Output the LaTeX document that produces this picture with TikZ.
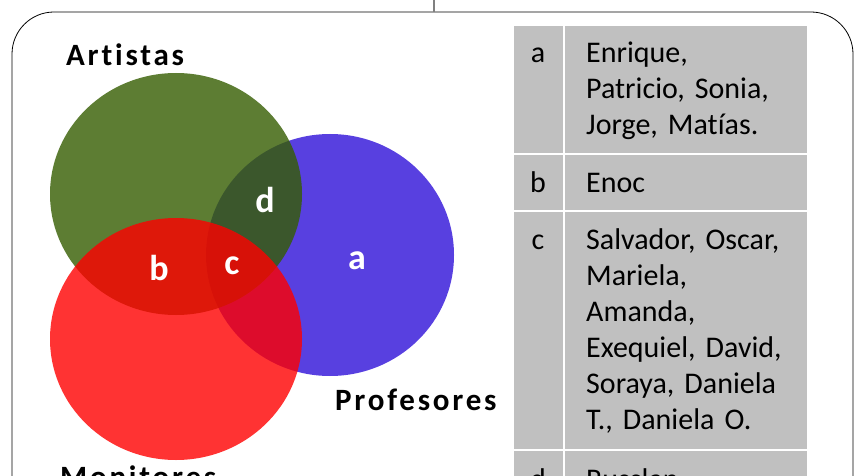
\documentclass[tikz,border=0pt]{standalone}
\usepackage{fontspec}
\setmainfont{Carlito}[Ligatures=NoCommon]
\newfontfamily\setnamefont[LetterSpace=9, Ligatures=NoCommon]{Carlito}
\usetikzlibrary{positioning}
\definecolor{artgreen}{RGB}{52,93,0}
\definecolor{profblue}{RGB}{88,64,224}
\definecolor{monred}{RGB}{255,0,0}
\definecolor{cellgray}{RGB}{192,192,192}

\begin{document}
\begin{tikzpicture}[
    x=1pt, y=-1pt,
    setname/.style={font=\setnamefont\bfseries\fontsize{31}{31}\selectfont, anchor=base west, inner sep=0pt},
    region/.style={font=\bfseries\fontsize{36}{36}\selectfont, text=white, inner sep=0pt},
    cell/.style={fill=cellgray, draw=white, line width=1.5pt},
    key/.style={font=\fontsize{30}{36}\selectfont, anchor=base, inner sep=0pt},
    names/.style={font=\fontsize{30}{36}\selectfont, anchor=base west, align=left, text width=230pt, inner sep=0pt}
]
    \useasboundingbox (0,0) rectangle (854,476);

    % frame
    \draw[line width=0.8pt, rounded corners=42pt] (12,540) rectangle (853,12);
    \coordinate (tab) at (434,0);
    \coordinate (tabfoot) at (434,12);
    \draw[gray, line width=1.5pt] (tab) -- (tabfoot);

    % sets
    \fill[profblue] (330,255) ellipse [x radius=124pt, y radius=121pt];
    \fill[artgreen, fill opacity=0.8] (176,194) ellipse [x radius=126pt, y radius=121pt];
    \fill[monred, fill opacity=0.8] (176,339) ellipse [x radius=126pt, y radius=121pt];

    \node[setname] (artistas) at (66,66) {Artistas};
    \node[setname] (profesores) at (335,410) {Profesores};
    \node[setname] (monitores) at (60,487) {Monitores};

    \node[region] (ra) at (357,261) {a};
    \node[region] (rb) at (159,268) {b};
    \node[region] (rc) at (232,266) {c};
    \node[region] (rd) at (265,200) {d};

    % table
    \foreach \top/\bot in {25/154, 154/211, 211/450, 450/540} {
        \path[cell] (513,\top) rectangle (564,\bot);
        \path[cell] (564,\top) rectangle (808,\bot);
    }

    \node[key] (ka) at (538,63) {a};
    \node[names] (na) at (586,63) {Enrique,\\Patricio, Sonia,\\Jorge, Matías.};
    \node[key] (kb) at (538,193) {b};
    \node[names] (nb) at (586,193) {Enoc};
    \node[key] (kc) at (538,249) {c};
    \node[names] (nc) at (586,249) {Salvador, Oscar,\\Mariela,\\Amanda,\\Exequiel, David,\\Soraya, Daniela\\T., Daniela O.};
    \node[key] (kd) at (538,489) {d};
    \node[names] (nd) at (586,489) {Russlan};
\end{tikzpicture}
\end{document}
